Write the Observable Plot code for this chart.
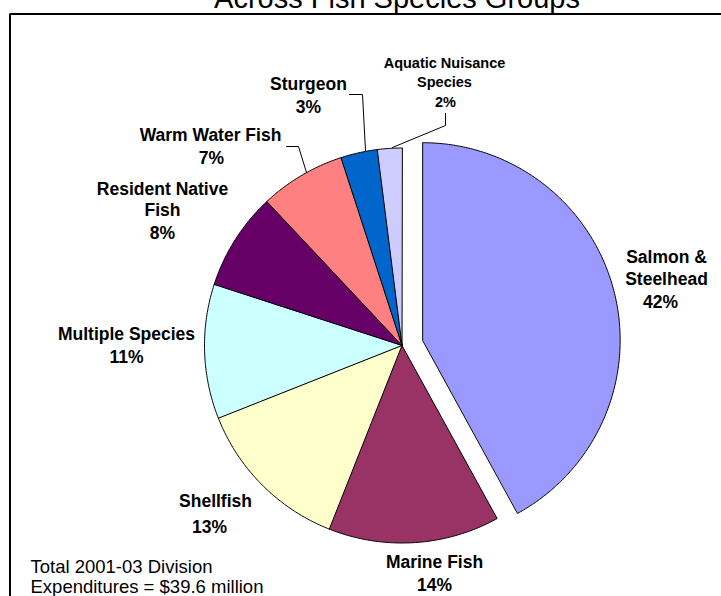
<!DOCTYPE html>
<html>
<head>
<meta charset="utf-8">
<script src="https://cdn.jsdelivr.net/npm/d3@7"></script>
<script src="https://cdn.jsdelivr.net/npm/@observablehq/plot@0.6"></script>
<style>
  html, body { margin: 0; padding: 0; background: #fff; overflow: hidden; }
  #chart svg { display: block; }
</style>
</head>
<body>
<div id="chart"></div>
<script>
// Expenditure shares by fish species group (percent of the division total)
const groups = [
  "Salmon & Steelhead",
  "Marine Fish",
  "Shellfish",
  "Multiple Species",
  "Resident Native Fish",
  "Warm Water Fish",
  "Sturgeon",
  "Aquatic Nuisance Species"
];
const shares = [42, 14, 13, 11, 8, 7, 3, 2];
const groupColors = ["#9999FF", "#993366", "#FFFFCC", "#CCFFFF", "#660066", "#FF8080", "#0066CC", "#CCCCFF"];
const pulledOut = ["Salmon & Steelhead"];

// Label wording, broken into lines as printed
const labelNames = [
  ["Salmon &", "Steelhead"],
  ["Marine Fish"],
  ["Shellfish"],
  ["Multiple Species"],
  ["Resident Native", "Fish"],
  ["Warm Water Fish"],
  ["Sturgeon"],
  ["Aquatic Nuisance", "Species"]
];
const titleText = "Across Fish Species Groups";
const noteLines = ["Total 2001-03 Division", "Expenditures = $39.6 million"];

// ---- layout (pixels) ----
const W = 721, H = 596;
const CX = 401.5, CY = 345, R = 197.5;   // pie centre and radius
const PULL = 0.108;                      // explode distance, in radii
const FONT = "'Liberation Sans', Arial, Helvetica, sans-serif";
const BOX = {left: 9.5, top: 13.5};      // open border: top and left edges only

// centre of each printed label line (name lines, then the percentage)
const labelAt = [
  [[666, 257], [666, 279], [660, 302]],
  [[434, 562], [434, 585]],
  [[215, 501], [209, 527]],
  [[126, 334], [126, 357]],
  [[162, 189], [162, 210], [162, 233]],
  [[210, 135], [211, 158]],
  [[308, 84], [308, 107]],
  [[444, 63], [444, 82], [445, 102]]
];
const smallLabels = ["Aquatic Nuisance Species"];

// leader lines from labels to their slices
const leaders = [
  {group: "Warm Water Fish", path: [[286, 146], [298, 146], [306, 172]]},
  {group: "Sturgeon", path: [[349, 94], [362, 94], [365, 150]]},
  {group: "Aquatic Nuisance Species", path: [[445, 113], [445, 125], [392, 147]]}
];

// pixel -> pie units (x right, y up, radius = 1)
const toU = px => (px - CX) / R;
const toV = py => (CY - py) / R;

// ---- slice outlines ----
const arcs = d3.pie().sort(null).value(d => d.share)(
  groups.map((g, i) => ({group: g, share: shares[i]}))
);
const slicePoints = [];
for (const a of arcs) {
  const g = a.data.group;
  const mid = (a.startAngle + a.endAngle) / 2;
  const off = pulledOut.includes(g) ? PULL : 0;
  const ox = off * Math.sin(mid), oy = off * Math.cos(mid);
  slicePoints.push({group: g, x: ox, y: oy});
  const n = Math.max(2, Math.ceil((a.endAngle - a.startAngle) / (Math.PI / 360)));
  for (let k = 0; k <= n; ++k) {
    const t = a.startAngle + (a.endAngle - a.startAngle) * k / n;
    slicePoints.push({group: g, x: ox + Math.sin(t), y: oy + Math.cos(t)});
  }
}

// ---- label lines ----
const labelLines = [];
groups.forEach((g, i) => {
  const lines = [...labelNames[i], `${shares[i]}%`];
  lines.forEach((text, j) => {
    const [px, py] = labelAt[i][j];
    labelLines.push({group: g, text, x: toU(px), y: toV(py), small: smallLabels.includes(g)});
  });
});

const leaderPoints = leaders.flatMap(l => l.path.map(([px, py]) => ({group: l.group, x: toU(px), y: toV(py)})));

const noteData = noteLines.map((text, j) => ({text, x: toU(30), y: toV(567 + 20 * j)}));

// border along the top and left of the chart area, as one open path
const borderPoints = [
  {x: toU(W), y: toV(BOX.top)},
  {x: toU(BOX.left), y: toV(BOX.top)},
  {x: toU(BOX.left), y: toV(H)}
];

const chart = Plot.plot({
  width: W,
  height: H,
  margin: 0,
  style: {background: "#fff", fontFamily: FONT},
  x: {domain: [-1, 1], range: [CX - R, CX + R], axis: null},
  y: {domain: [-1, 1], range: [CY + R, CY - R], axis: null},
  color: {domain: groups, range: groupColors},
  marks: [
    Plot.line(borderPoints, {x: "x", y: "y", stroke: "#000", strokeWidth: 2, strokeLinejoin: "miter"}),
    Plot.text([titleText], {
      x: () => toU(396.5), y: () => toV(7), text: d => d,
      fontSize: 29, lineAnchor: "bottom", fill: "#000", fontFamily: FONT
    }),
    Plot.line(slicePoints, {
      x: "x", y: "y", z: "group", fill: "group",
      stroke: "#000", strokeWidth: 1, strokeLinejoin: "round", curve: "linear-closed"
    }),
    Plot.line(leaderPoints, {x: "x", y: "y", z: "group", stroke: "#000", strokeWidth: 1}),
    Plot.text(labelLines.filter(d => !d.small), {
      x: "x", y: "y", text: "text", fontSize: 17.5, fontWeight: "bold",
      fill: "#000", fontFamily: FONT, lineAnchor: "middle"
    }),
    Plot.text(labelLines.filter(d => d.small), {
      x: "x", y: "y", text: "text", fontSize: 14.5, fontWeight: "bold",
      fill: "#000", fontFamily: FONT, lineAnchor: "middle"
    }),
    Plot.text(noteData, {
      x: "x", y: "y", text: "text", fontSize: 18.5, textAnchor: "start",
      fill: "#000", fontFamily: FONT, lineAnchor: "middle"
    })
  ]
});

document.getElementById("chart").append(chart);
</script>
</body>
</html>
